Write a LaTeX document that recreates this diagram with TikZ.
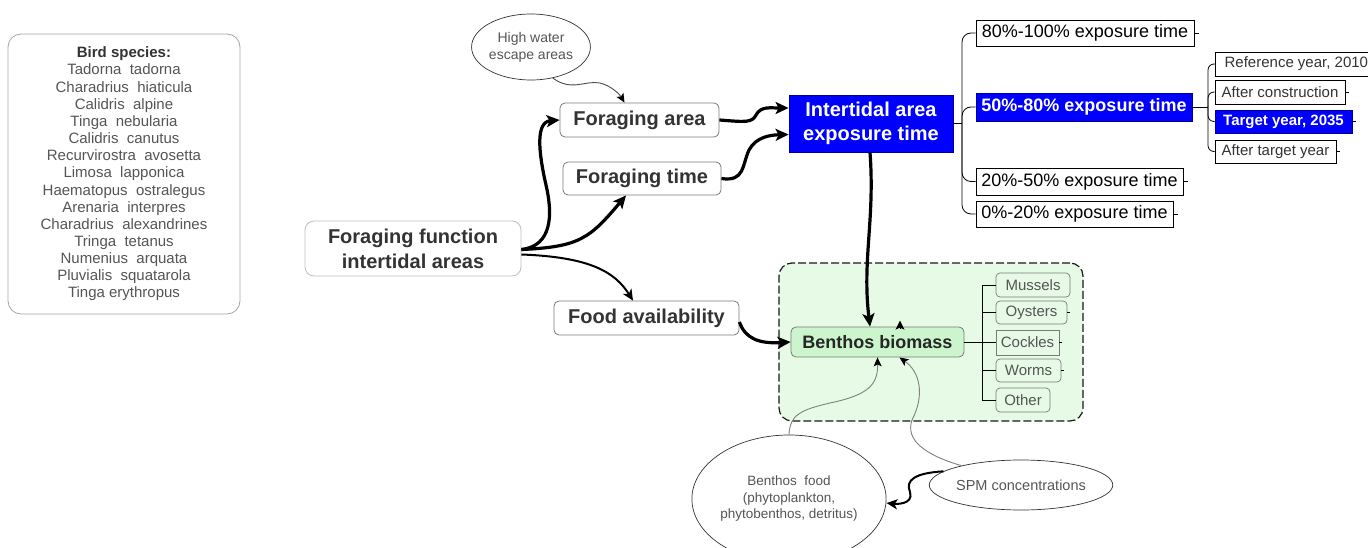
\documentclass[tikz,border=0pt]{standalone}
\usepackage{fontspec}
\setmainfont{Liberation Sans}
\usetikzlibrary{arrows.meta,shapes.geometric}
\definecolor{txt}{HTML}{333333}
\definecolor{gtxt}{HTML}{555555}
\definecolor{bord}{HTML}{7A7A7A}
\definecolor{bblue}{HTML}{0000FF}
\definecolor{regfill}{HTML}{E6FAE6}
\definecolor{bbfill}{HTML}{CDF5CD}
\tikzset{
  fbox/.style={draw=bord, line width=0.8pt, rounded corners=5pt, inner sep=0pt, text=txt,
     font=\fontsize{20}{22}\selectfont\bfseries},
  ebox/.style={draw=black, line width=0.8pt, inner sep=0pt, font=\fontsize{18}{20}\selectfont},
  sbox/.style={draw=black, line width=0.7pt, inner sep=0pt, text=txt, font=\fontsize{15}{17}\selectfont},
  spbox/.style={draw=bord, line width=0.7pt, rounded corners=4pt, inner sep=0pt, text=gtxt,
     font=\fontsize{15}{17}\selectfont},
  blue box/.style={fill=bblue, draw=blue!60!black, text=white},
  ell/.style={ellipse, draw=black!80, line width=0.7pt, inner sep=0pt, text=gtxt, align=center},
  thickarr/.style={line width=3.2pt, -{Stealth[length=13pt,width=12pt,inset=3pt]}},
  medarr/.style={line width=2pt, -{Stealth[length=11pt,width=10pt,inset=3pt]}},
  thinarr/.style={draw=gray, line width=0.9pt, -{Stealth[length=9pt,width=8pt,inset=2pt,color=black]}},
  tree/.style={line width=0.8pt},
}
\begin{document}
\begin{tikzpicture}[x=1pt,y=-1pt]
\useasboundingbox (0,0) rectangle (1368,548);
\fill[white] (0,0) rectangle (1368,548);

% bird species
\node[draw=gray!70, line width=0.8pt, rounded corners=13pt, minimum width=232pt, minimum height=280pt,
      align=center, text=gtxt, font=\fontsize{15}{17.15}\selectfont] (birds) at (124,174)
  {{\color{txt}\bfseries Bird species:}\\Tadorna~ tadorna\\Charadrius~ hiaticula\\Calidris~ alpine\\
   Tinga~ nebularia\\Calidris~ canutus\\Recurvirostra~ avosetta\\Limosa~ lapponica\\
   Haematopus~ ostralegus\\Arenaria~ interpres\\Charadrius~ alexandrines\\Tringa~ tetanus\\
   Numenius~ arquata\\Pluvialis~ squatarola\\Tinga erythropus};

% green region
\node[draw=black!90, dashed, dash pattern=on 8pt off 3pt, line width=1.2pt, fill=regfill,
      rounded corners=13pt, minimum width=304pt, minimum height=158pt] (green) at (931,342) {};

% main nodes
\node[ell, minimum width=90pt, minimum height=66pt, font=\fontsize{14}{17}\selectfont] (hw) at (531,47)
  {High water\\escape areas};
\node[fbox, minimum width=159pt, minimum height=34pt] (fa) at (639.5,120) {Foraging area};
\node[fbox, minimum width=158pt, minimum height=33pt] (ft) at (642,178.5) {Foraging time};
\node[fbox, draw=gray!50, rounded corners=9pt, minimum width=216pt, minimum height=55pt, align=center,
      font=\fontsize{20}{25}\selectfont\bfseries] (ff) at (413,248.5) {Foraging function\\intertidal areas};
\node[fbox, minimum width=185pt, minimum height=34pt] (food) at (646.5,318) {Food availability};
\node[fbox, blue box, rounded corners=0pt, minimum width=164pt, minimum height=57pt, align=center,
      font=\fontsize{20}{24}\selectfont\bfseries] (ie) at (871,123.5) {Intertidal area\\exposure time};

% exposure boxes
\node[ebox, minimum width=218pt, minimum height=26pt] (e80) at (1085,33) {80\%-100\% exposure time};
\node[ebox, blue box, font=\fontsize{18}{20}\selectfont\bfseries, minimum width=216pt, minimum height=28pt] (e50) at (1084,107) {50\%-80\% exposure time};
\node[ebox, minimum width=207pt, minimum height=27pt] (e20) at (1079.5,181.5) {20\%-50\% exposure time};
\node[ebox, minimum width=197pt, minimum height=26pt] (e0) at (1074.5,214) {0\%-20\% exposure time};

% years
\node[sbox, minimum width=157pt, minimum height=24pt, anchor=west] (r10) at (1215,64)
  {\hspace{5pt}Reference year, 2010\hfill};
\node[sbox, minimum width=130pt, minimum height=24pt] (ac) at (1280,92) {After construction};
\node[sbox, blue box, font=\fontsize{15}{17}\selectfont\bfseries, minimum width=137pt, minimum height=23pt] (ty) at (1283.5,121.5) {Target year, 2035};
\node[sbox, minimum width=121pt, minimum height=23pt] (at) at (1275.5,151.5) {After target year};

% benthos
\node[draw=bord, line width=0.8pt, fill=bbfill, rounded corners=5pt, minimum width=173pt, minimum height=30pt,
      inner sep=0pt, text=black!85, font=\fontsize{18}{20}\selectfont\bfseries] (bb) at (877.5,342) {Benthos biomass};
\node[spbox, minimum width=74pt, minimum height=24pt] (mu) at (1033,285) {Mussels};
\node[spbox, minimum width=71pt, minimum height=23pt] (oy) at (1031.5,312.5) {Oysters};
\node[spbox, rounded corners=0pt, minimum width=63pt, minimum height=25pt] (co) at (1027.5,342.5) {Cockles};
\node[spbox, minimum width=65pt, minimum height=23pt] (wo) at (1028.5,370.5) {Worms};
\node[spbox, minimum width=54pt, minimum height=24pt] (ot) at (1023,400) {Other};

% ellipses at bottom
\node[ell, minimum width=174pt, minimum height=128pt, font=\fontsize{13.5}{16.5}\selectfont] (bf) at (789,499)
  {Benthos~ food\\(phytoplankton,\\phytobenthos, detritus)};
\node[ell, minimum width=170pt, minimum height=50pt, font=\fontsize{14.5}{17}\selectfont] (spm) at (1021,485)
  {SPM concentrations};

% exposure tree
\coordinate (et) at (962,123.5);
\draw[tree] (ie.east) -- (et);
\draw[tree, rounded corners=9pt] (et) |- (e80.west);
\draw[tree, rounded corners=9pt] (et) |- (e50.west);
\draw[tree, rounded corners=9pt] (et) |- (e20.west);
\draw[tree, rounded corners=9pt] (et) |- (e0.west);
\draw[tree] (e80.east) -- ++(5,0);
\draw[tree] (e20.east) -- ++(5,0);
\draw[tree] (e0.east) -- ++(5,0);

% year tree
\coordinate (yt) at (1208,107);
\draw[tree] (e50.east) -- (yt);
\draw[tree, rounded corners=6pt] (yt) |- (r10.west);
\draw[tree, rounded corners=6pt] (yt) |- (ac.west);
\draw[tree, rounded corners=6pt] (yt) |- (ty.west);
\draw[tree, rounded corners=6pt] (yt) |- (at.west);
\draw[tree] (ac.east) -- ++(4,0);
\draw[tree] (ty.east) -- ++(4,0);
\draw[tree] (at.east) -- ++(4,0);

% species tree
\coordinate (sp) at (982,342);
\draw[tree] (bb.east) -- (sp);
\draw[tree] (sp|-mu.west) -- (sp|-ot.west);
\foreach \n in {mu,oy,co,wo,ot} \draw[tree] (sp|-\n.west) -- (\n.west);
\foreach \n in {oy,co,wo} \draw[tree] (\n.east) -- ++(3,0);

% connectors
\draw[thickarr] ([yshift=-1pt]ff.east) .. controls (552,246) and (553,215) .. (546,185)
   .. controls (538,150) and (536,122) .. (fa.west);
\draw[thickarr] ([yshift=-1pt]ff.east) .. controls (580,247) and (590,238) .. ([xshift=-16pt]ft.south);
\draw[medarr] ([yshift=-6pt]ff.east) .. controls (590,257) and (615,272) .. ([xshift=-13.5pt]food.north);
\draw[thinarr, draw=black!70] (hw.-55) .. controls (572,92) and (585,80) .. (600,83)
   .. controls (612,86) and (620,95) .. ([xshift=-15pt]fa.north);
\draw[thickarr] (fa.east) .. controls (745,122) and (752,123) .. (756,115)
   .. controls (761,106) and (770,108) .. ([yshift=15.5pt]ie.west);
\draw[thickarr] (ft.east) .. controls (745,182) and (742,165) .. (749,150)
   .. controls (756,137) and (770,135) .. ([yshift=-11pt]ie.west);
\draw[thickarr] ([xshift=-1pt]ie.south) .. controls (875,220) and (862,260) .. ([xshift=-7.5pt]bb.north);
\draw[thickarr] ([yshift=-4pt]food.east) .. controls (745,338) and (758,344) .. (bb.west);
\coordinate (up) at ([xshift=22.5pt,yshift=-2pt]bb.north);
\draw[line width=1pt, -{Stealth[length=9pt,width=9pt,inset=2pt]}] (up) -- ([yshift=8pt]up);
\draw[thinarr] (bf.north) .. controls (790,415) and (800,410) .. (830,403)
   .. controls (868,395) and (878,385) .. (bb.south);
\draw[thinarr] (spm.162) .. controls (925,455) and (905,440) .. (912,420)
   .. controls (925,395) and (920,372) .. ([xshift=22pt]bb.south);
\draw[medarr] (spm.170) .. controls (915,473) and (905,480) .. (910,492)
   .. controls (914,505) and (895,504) .. ([yshift=-4pt]bf.east);
\end{tikzpicture}
\end{document}
